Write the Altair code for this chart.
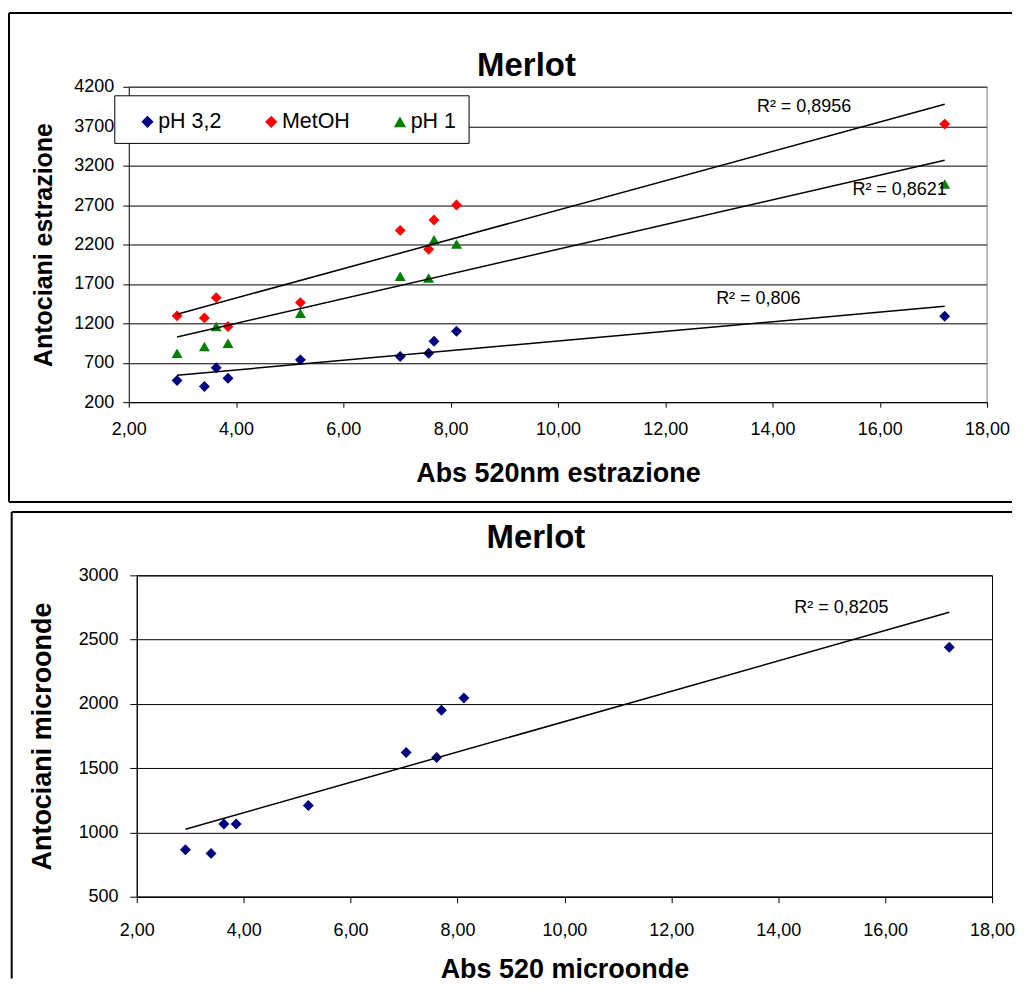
import altair as alt
import pandas as pd

FONT = "Liberation Sans, Arial, Helvetica, sans-serif"

# ---------------- data ----------------
series = ["pH 3,2", "MetOH", "pH 1"]
series_colors = ["#000080", "#FF0000", "#008000"]
series_shapes = ["diamond", "diamond", "triangle-up"]

abs_estrazione = [2.90, 3.41, 3.63, 3.85, 5.20, 7.06, 7.59, 7.69, 8.11, 17.21]
anto_ph32 = [475, 399, 636, 504, 737, 779, 821, 973, 1100, 1290]
anto_metoh = [1295, 1269, 1526, 1159, 1463, 2379, 2139, 2511, 2701, 3727]
anto_ph1 = [821, 906, 1159, 948, 1328, 1796, 1776, 2261, 2207, 2967]

abs_microonde = [2.91, 3.39, 3.63, 3.86, 5.21, 7.04, 7.61, 7.70, 8.12, 17.20]
anto_microonde = [865, 837, 1065, 1065, 1210, 1622, 1583, 1951, 2046, 2440]

x_ticks = [2, 4, 6, 8, 10, 12, 14, 16, 18]
y_ticks_top = [200, 700, 1200, 1700, 2200, 2700, 3200, 3700, 4200]
y_ticks_bottom = [500, 1000, 1500, 2000, 2500, 3000]

r2_top_labels = ["R² = 0,8956", "R² = 0,8621", "R² = 0,806"]
r2_top_x = [13.71, 15.49, 12.95]
r2_top_y = [3880, 2833, 1440]
r2_bottom_labels = ["R² = 0,8205"]
r2_bottom_x = [14.30]
r2_bottom_y = [2707]

title_text = "Merlot"

# ---------------- tables ----------------
df_top = pd.DataFrame({
    "abs": abs_estrazione * 3,
    "anto": anto_ph32 + anto_metoh + anto_ph1,
    "serie": [s for s in series for _ in abs_estrazione],
})
df_bot = pd.DataFrame({"abs": abs_microonde, "anto": anto_microonde})
df_r2_top = pd.DataFrame({"abs": r2_top_x, "anto": r2_top_y, "txt": r2_top_labels})
df_r2_bot = pd.DataFrame({"abs": r2_bottom_x, "anto": r2_bottom_y, "txt": r2_bottom_labels})

ONE = alt.Data(values=[{"k": 0}])

# both panels share the same group origin; the top plot starts 8px further left
SHIFT = 8
TOP_W, TOP_H = 852, 316
BOT_W, BOT_H = 857, 322
RIGHT_END = 877

label_expr = "replace(format(datum.value, '.2f'), '.', ',')"


def hrule(x1, x2, y, w=2, color="black"):
    return alt.Chart(ONE).mark_rule(color=color, strokeWidth=w).encode(
        x=alt.value(x1), x2=alt.value(x2), y=alt.value(y))


def vrule(x, y1, y2, w=2, color="black"):
    return alt.Chart(ONE).mark_rule(color=color, strokeWidth=w).encode(
        x=alt.value(x), y=alt.value(y1), y2=alt.value(y2))


def title_mark(x, y):
    return alt.Chart(ONE).mark_text(
        font=FONT, fontSize=33, fontWeight="bold", color="black",
        align="center", baseline="alphabetic").encode(
        x=alt.value(x), y=alt.value(y), text=alt.value(title_text))


# ---------------- top chart ----------------
x_top = alt.X("abs:Q",
              scale=alt.Scale(domain=[2, 18], range=[-SHIFT, TOP_W], nice=False, zero=False),
              axis=alt.Axis(values=x_ticks, labelExpr=label_expr, grid=False,
                            labelFlush=False, tickSize=5, labelPadding=13,
                            title="Abs 520nm estrazione", titleFontSize=27,
                            titleX=(TOP_W - SHIFT) / 2, titleY=79, titleAlign="center",
                            titleBaseline="alphabetic", titleAngle=0))
y_top = alt.Y("anto:Q",
              scale=alt.Scale(domain=[200, 4200], nice=False, zero=False),
              axis=alt.Axis(values=y_ticks_top, format="d", grid=True, offset=SHIFT,
                            tickSize=6, labelPadding=9,
                            title="Antociani estrazione", titleFontSize=25,
                            titleX=-85, titleY=TOP_H / 2, titleAngle=270,
                            titleAlign="center", titleBaseline="middle"))

legend = alt.Legend(title=None, orient="none", legendX=0, legendY=24,
                    direction="horizontal", columns=3, symbolSize=150,
                    symbolStrokeWidth=0, labelFont=FONT, labelFontSize=21.5,
                    labelColor="black", labelOffset=0, columnPadding=39,
                    padding=0, labelLimit=300)

pts_top = alt.Chart(df_top).mark_point(filled=True, size=120, opacity=1).encode(
    x=x_top, y=y_top,
    color=alt.Color("serie:N", scale=alt.Scale(domain=series, range=series_colors), legend=legend),
    shape=alt.Shape("serie:N", scale=alt.Scale(domain=series, range=series_shapes), legend=legend),
)
trend_top = alt.Chart(df_top).transform_regression(
    "abs", "anto", groupby=["serie"]).mark_line(color="black", strokeWidth=1.5).encode(
    x=x_top, y=y_top, detail="serie:N")
r2_top = alt.Chart(df_r2_top).mark_text(
    font=FONT, fontSize=18, color="black", align="left", baseline="alphabetic").encode(
    x=x_top, y=y_top, text="txt:N")
legend_box = alt.Chart(ONE).mark_rect(fill="white", stroke="black", strokeWidth=1).encode(
    x=alt.value(-22), x2=alt.value(333), y=alt.value(9), y2=alt.value(56.7))

top = alt.layer(
    hrule(-128, RIGHT_END, -74),
    vrule(-128, -74, 416),
    hrule(-128, RIGHT_END, 416),
    hrule(-SHIFT, TOP_W, 0, w=1, color="#808080"),
    vrule(TOP_W, 0, TOP_H, w=1, color="#808080"),
    title_mark(390.5, -11),
    legend_box,
    pts_top,
    trend_top,
    r2_top,
).properties(width=TOP_W, height=TOP_H,
             view=alt.ViewBackground(stroke="transparent", strokeWidth=0))

# ---------------- bottom chart ----------------
x_bot = alt.X("abs:Q",
              scale=alt.Scale(domain=[2, 18], nice=False, zero=False),
              axis=alt.Axis(values=x_ticks, labelExpr=label_expr, grid=False,
                            labelFlush=False, tickSize=6, labelPadding=18.4,
                            title="Abs 520 microonde", titleFontSize=27,
                            titleX=BOT_W / 2, titleY=81, titleAlign="center",
                            titleBaseline="alphabetic", titleAngle=0))
y_bot = alt.Y("anto:Q",
              scale=alt.Scale(domain=[500, 3000], nice=False, zero=False),
              axis=alt.Axis(values=y_ticks_bottom, format="d", grid=True, tickSize=7,
                            labelPadding=11.7,
                            title="Antociani microonde", titleFontSize=27,
                            titleX=-94.5, titleY=BOT_H / 2, titleAngle=270,
                            titleAlign="center", titleBaseline="middle"))

pts_bot = alt.Chart(df_bot).mark_point(filled=True, size=120, opacity=1,
                                       shape="diamond", color="#000080").encode(x=x_bot, y=y_bot)
trend_bot = alt.Chart(df_bot).transform_regression("abs", "anto").mark_line(
    color="black", strokeWidth=1.5).encode(x=x_bot, y=y_bot)
r2_bot = alt.Chart(df_r2_bot).mark_text(
    font=FONT, fontSize=18, color="black", align="left", baseline="alphabetic").encode(
    x=x_bot, y=y_bot, text="txt:N")

bottom = alt.layer(
    hrule(-125.3, RIGHT_END, -63.5),
    vrule(-125.3, -63.5, 404),
    title_mark(400, -27),
    pts_bot,
    trend_bot,
    r2_bot,
).properties(width=BOT_W, height=BOT_H,
             view=alt.ViewBackground(stroke="black", strokeWidth=1))

chart = alt.vconcat(top, bottom, spacing=7.5).properties(
    padding={"left": 0, "top": 3, "right": 0, "bottom": 0}
).configure_axis(
    labelFont=FONT, labelFontSize=18, labelColor="black",
    titleFont=FONT, titleFontWeight="bold", titleColor="black",
    domainColor="black", domainWidth=1, tickColor="black", tickWidth=1,
    gridColor="black", gridWidth=1, gridOpacity=1,
).configure_view(stroke=None)

chart.save("out.html", embed_options={"renderer": "svg", "actions": False})
